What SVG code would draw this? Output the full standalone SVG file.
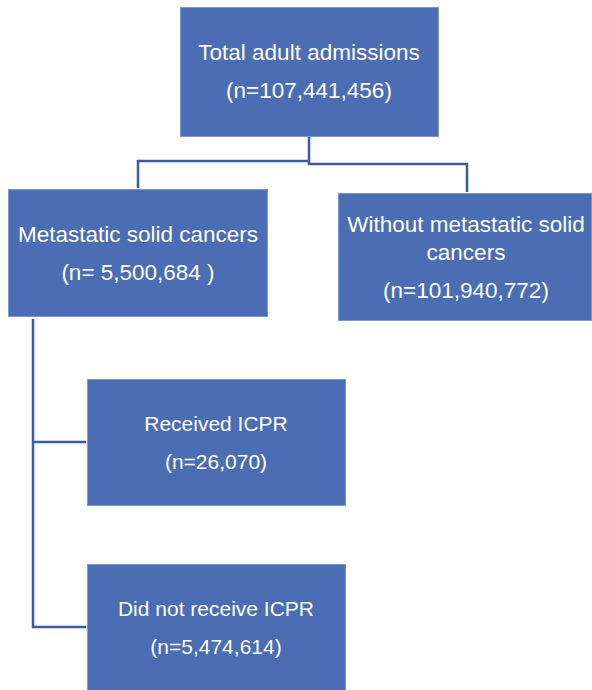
<svg xmlns="http://www.w3.org/2000/svg" width="592" height="690" viewBox="0 0 592 690">
<style>
.box{fill:#4A6DB3;stroke:#7D97CF;stroke-width:1}
.t{font-family:"Liberation Sans",Arial,sans-serif;fill:#FFFFFF;text-anchor:middle}
.big{font-size:22.5px}
.sm{font-size:21px}
.c{fill:none;stroke:#3B5CA3;stroke-width:2.5}
</style>
<rect width="592" height="690" fill="#FFFFFF"/>
<g id="connectors">
<polyline class="c" points="309,137 309,161 138,161 138,188"/>
<polyline class="c" points="309,161 309,164 467,164 467,192"/>
<polyline class="c" points="33,319 33,627 86,627"/>
<line class="c" x1="33" y1="442" x2="86" y2="442"/>
</g>
<g id="total">
<rect class="box" x="180.5" y="7.5" width="258" height="129"/>
<text class="t big" x="309" y="60">Total adult admissions</text>
<text class="t big" x="309" y="98">(n=107,441,456)</text>
</g>
<g id="metastatic">
<rect class="box" x="8.5" y="189.5" width="259" height="127"/>
<text class="t big" x="138" y="242">Metastatic solid cancers</text>
<text class="t big" x="138" y="280">(n= 5,500,684 )</text>
</g>
<g id="without">
<rect class="box" x="338.5" y="193.5" width="253" height="127"/>
<text class="t big" x="466" y="232">Without metastatic solid</text>
<text class="t big" x="466" y="260">cancers</text>
<text class="t big" x="466" y="298">(n=101,940,772)</text>
</g>
<g id="received">
<rect class="box" x="87.5" y="379.5" width="258" height="126"/>
<text class="t sm" x="216" y="431">Received ICPR</text>
<text class="t sm" x="216" y="469">(n=26,070)</text>
</g>
<g id="notreceived">
<rect class="box" x="87.5" y="564.5" width="258" height="130"/>
<text class="t sm" x="216" y="616">Did not receive ICPR</text>
<text class="t sm" x="216" y="654">(n=5,474,614)</text>
</g>
</svg>
